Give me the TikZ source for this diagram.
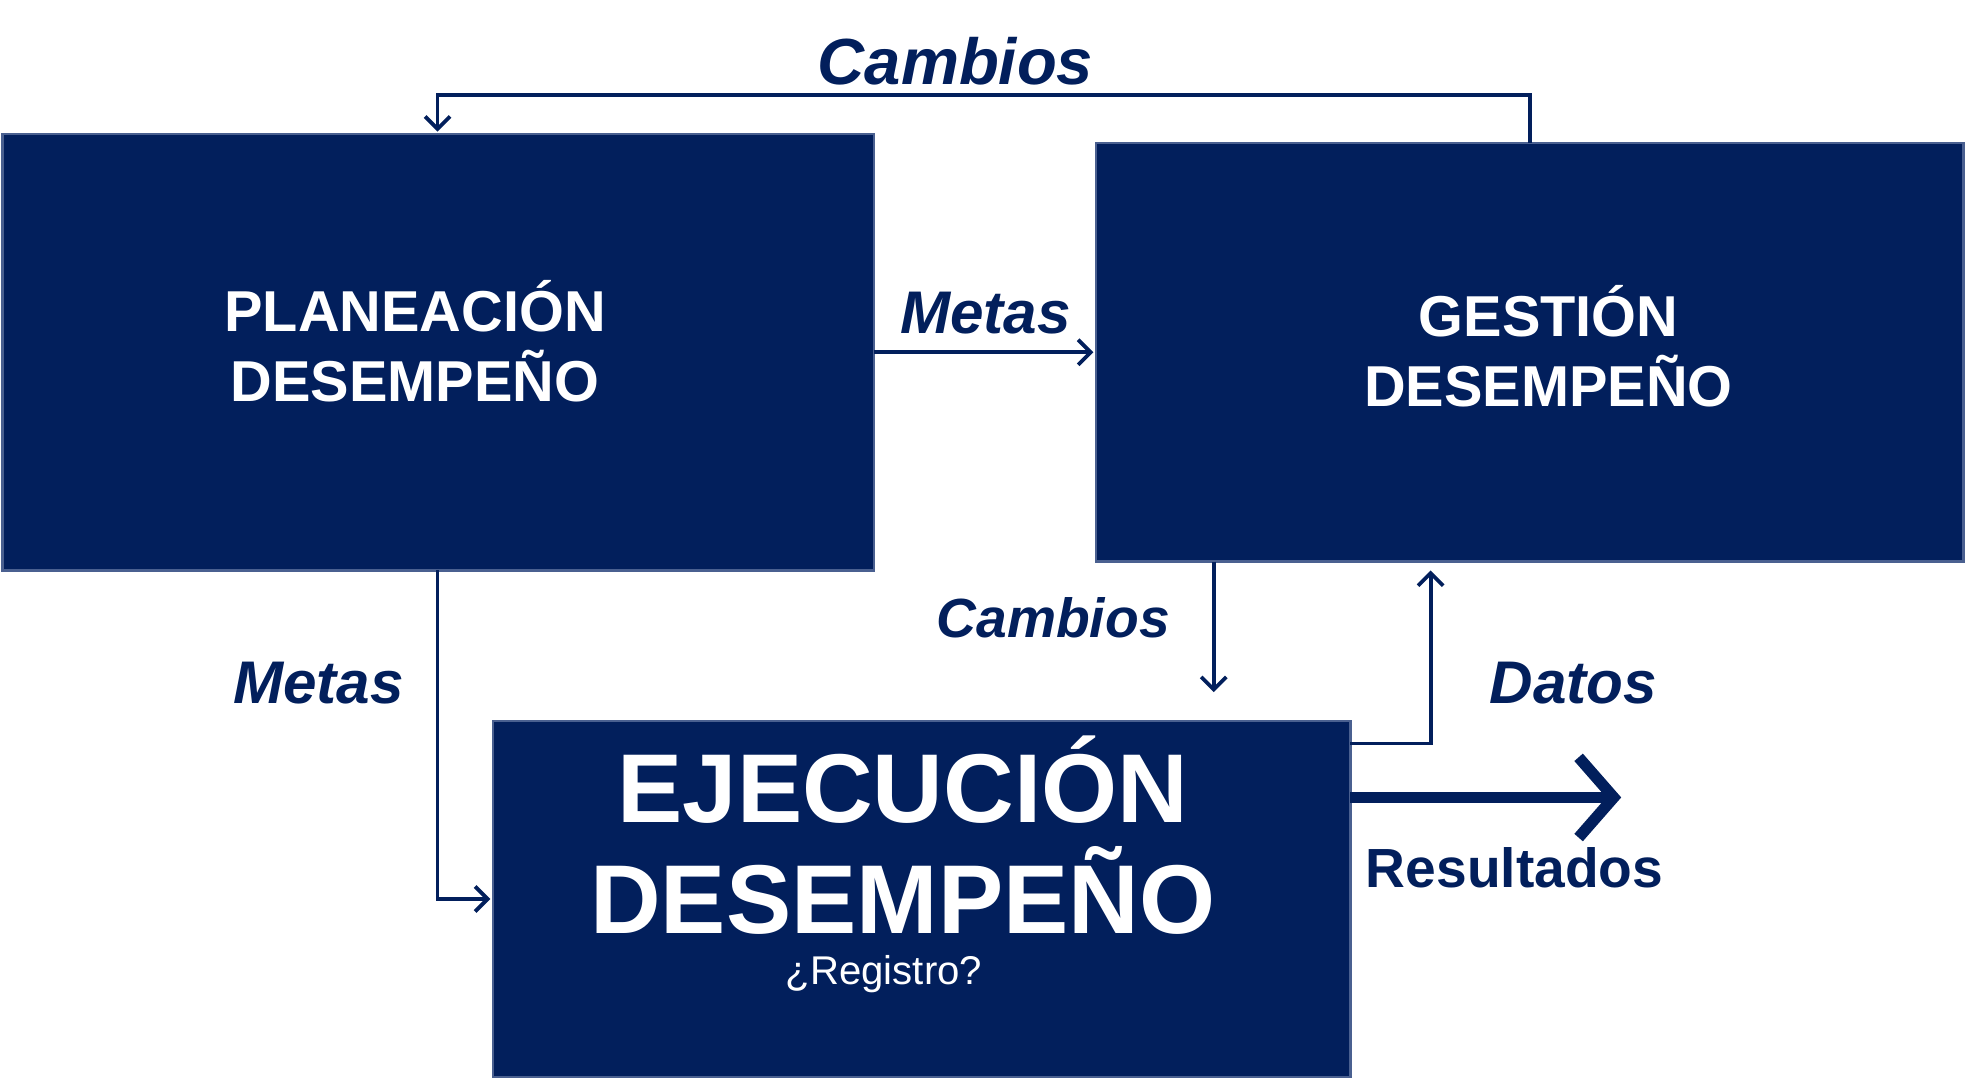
\documentclass[tikz,border=0pt]{standalone}
\usepackage{fontspec}
\setmainfont{Liberation Sans}
\usetikzlibrary{arrows.meta}
\definecolor{navy}{HTML}{021F5C}
\definecolor{edge}{HTML}{4A6090}
\begin{document}
\begin{tikzpicture}[x=1pt,y=-1pt,
  box/.style={draw=edge,line width=2pt,fill=navy},
  con/.style={draw=navy,line width=3pt,-{Straight Barb[length=10pt,width=20pt,line width=3pt]}},
  lab/.style={text=navy,font=\bfseries\itshape\fontsize{48}{52}\selectfont},
  btxt/.style={text=white,font=\bfseries\fontsize{46}{56}\selectfont,align=center}]
\useasboundingbox (0,0) rectangle (1568,861);
\draw[box] (2,107) rectangle (697,455);
\draw[box] (874,114) rectangle (1566,448);
\draw[box] (393,575) rectangle (1077,859);
\node[btxt] (p) at (331,272) {PLANEACIÓN\\DESEMPEÑO};
\node[btxt] (g) at (1235,276) {GESTIÓN\\DESEMPEÑO};
\node[text=white,font=\bfseries\fontsize{78}{88}\selectfont,align=center] (e) at (720,666) {EJECUCIÓN\\DESEMPEÑO};
\node[text=white,font=\fontsize{32}{36}\selectfont] (r) at (705,777) {¿Registro?};
\coordinate (a1) at (1220,114); \coordinate (a2) at (349,105);
\draw[con] (a1) -- (1220,76) -- (349,76) -- (a2);
\node[lab,font=\bfseries\itshape\fontsize{52}{56}\selectfont] (l1) at (762,49) {Cambios};
\coordinate (b1) at (697,281); \coordinate (b2) at (872,281);
\draw[con] (b1) -- (b2);
\node[lab] (l2) at (786,250) {Metas};
\coordinate (c1) at (349,455); \coordinate (c2) at (391,717);
\draw[con] (c1) |- (c2);
\node[lab] (l3) at (254,545) {Metas};
\coordinate (d1) at (968,448); \coordinate (d2) at (968,552);
\draw[con] (d1) -- (d2);
\node[lab,font=\bfseries\itshape\fontsize{44}{48}\selectfont] (l4) at (840,493) {Cambios};
\coordinate (f1) at (1077,593); \coordinate (f2) at (1141,455);
\draw[con] (f1) -| (f2);
\node[lab] (l5) at (1255,545) {Datos};
\coordinate (h1) at (1077,636); \coordinate (h2) at (1293,636);
\draw[navy,line width=9pt,-{Straight Barb[length=28pt,width=64pt,line width=9pt]}] (h1) -- (h2);
\node[text=navy,font=\bfseries\fontsize{44}{48}\selectfont] (l6) at (1208,692) {Resultados};
\end{tikzpicture}
\end{document}
